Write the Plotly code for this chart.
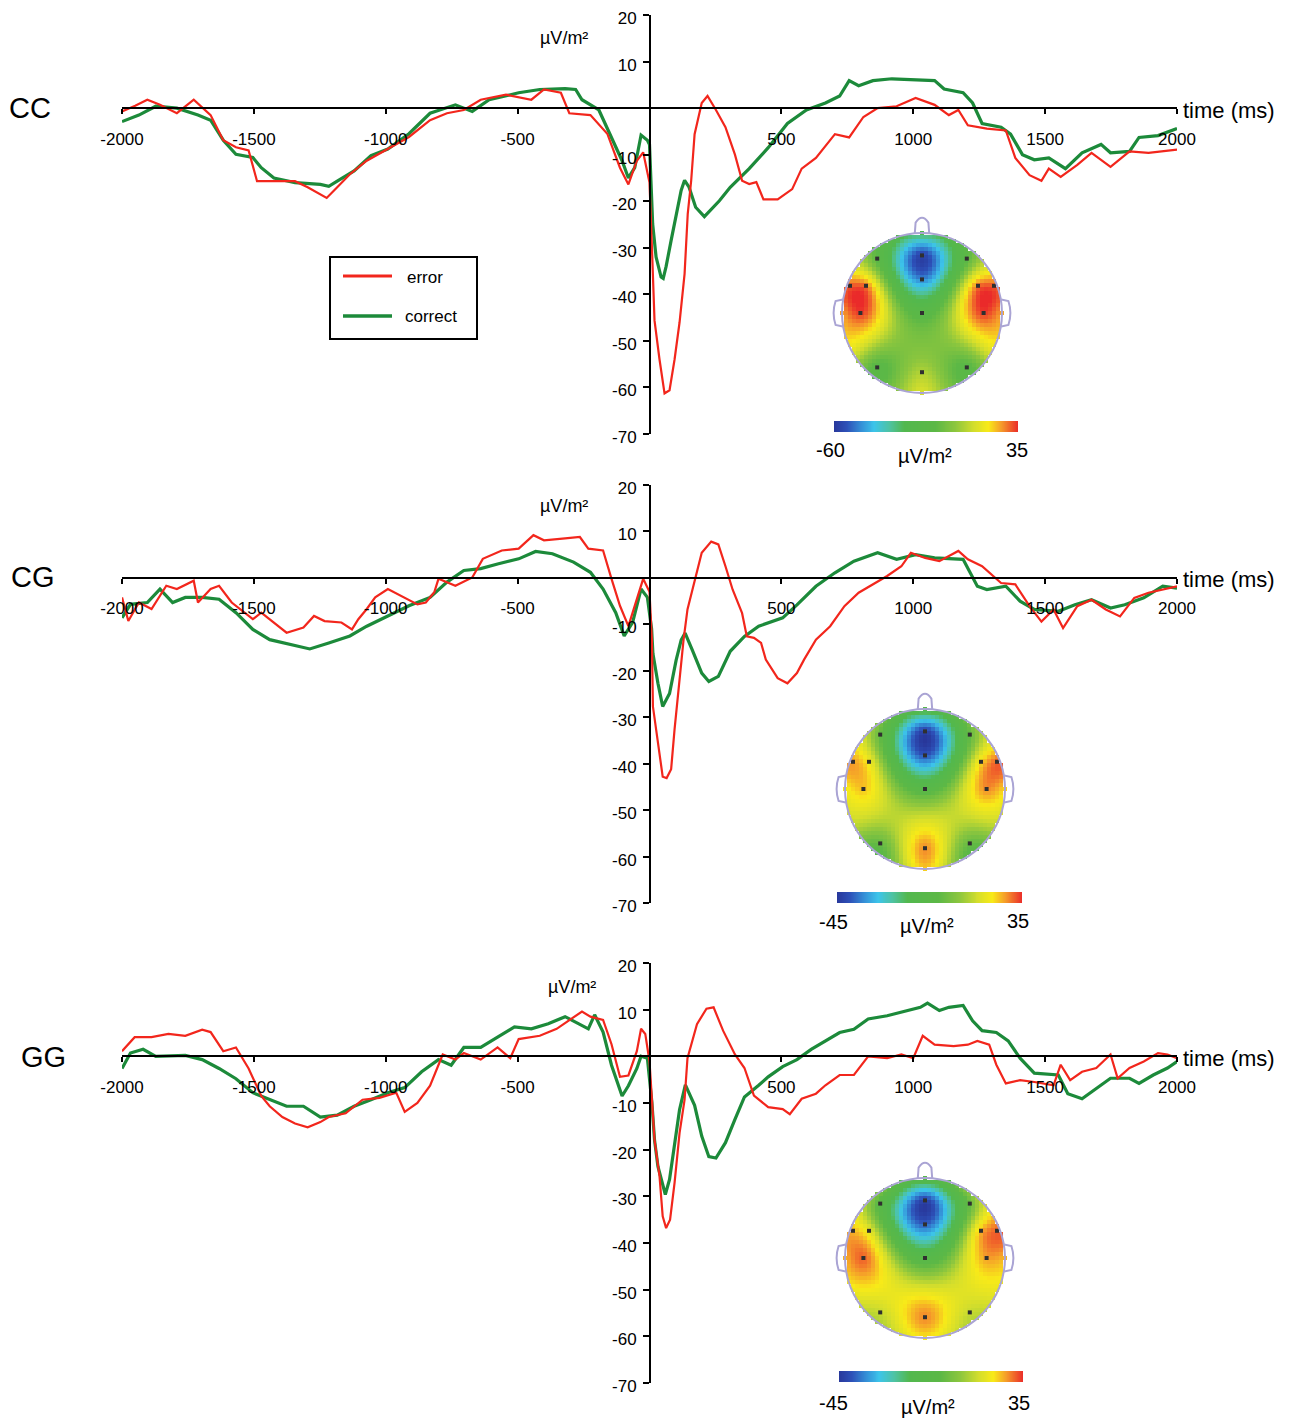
import numpy as np
import plotly.graph_objects as go

# the page places the figure 8 px from the top-left corner; coordinates below are page pixels
OFF = 8
W, H = 1304 - OFF, 1424 - OFF
def PX(p): return (p - OFF) / W
def PY(p): return 1 - (p - OFF) / H

# ---------------- data: ERP curves (time in ms, amplitude in µV/m²) ----------------
cc_err_t = [-2000,-1950,-1904,-1856,-1792,-1728,-1664,-1616,-1568,-1520,-1488,-1424,-1344,-1296,-1224,-1184,-1136,-1072,-992,-912,-832,-768,-704,-640,-544,-448,-400,-336,-304,-224,-160,-112,-80,-48,-24,0,8,19,38,57,76,95,114,133,145,158,171,198,220,252,288,324,351,378,405,432,486,541,577,631,703,757,811,865,937,1009,1081,1135,1171,1207,1279,1351,1387,1441,1486,1514,1559,1622,1676,1748,1820,1892,2000]
cc_err_v = [-0.7,0.5,1.8,0.7,-1.1,1.8,-1.5,-6.9,-8.4,-9.1,-15.7,-15.7,-15.7,-17,-19.3,-17,-14.2,-11.3,-8.8,-6.2,-2.6,-1.1,-0.4,1.8,2.9,1.8,4,3.3,-1.1,-1.5,-5.5,-12.8,-16.4,-11.3,-9.5,-16,-28,-45.6,-54,-61.3,-60.6,-54,-46,-35.6,-22.7,-15.6,-5.6,1.1,2.6,-0.4,-4.1,-10,-15.6,-16.3,-15.9,-19.6,-19.6,-17.4,-13,-10.7,-5.6,-6.3,-1.9,0,0.4,2.2,0.7,-1.5,-0.4,-3.7,-4.4,-4.8,-10.7,-14.4,-15.6,-13,-14.8,-12.2,-9.6,-12.6,-9.3,-9.6,-8.9]
cc_cor_t = [-2000,-1936,-1872,-1792,-1712,-1664,-1616,-1568,-1504,-1472,-1424,-1344,-1248,-1216,-1184,-1120,-1056,-992,-912,-832,-736,-672,-608,-496,-416,-320,-280,-256,-192,-152,-104,-80,-56,-32,-8,0,12,25,44,52,63,82,101,120,133,150,175,208,265,306,378,450,523,595,667,721,757,793,847,919,1081,1117,1189,1225,1261,1333,1369,1414,1459,1514,1577,1640,1712,1748,1820,1856,1928,2000]
cc_cor_v = [-2.9,-1.5,0.4,0,-1.5,-2.6,-6.9,-9.9,-10.6,-12.8,-15,-16,-16.4,-16.8,-15.7,-13.5,-10.2,-8.8,-5.5,-1.1,0.7,-0.7,1.8,3.3,4,4.2,4,1.8,-0.4,-5.5,-11.3,-15,-12.8,-5.8,-6.9,-7.8,-24.9,-32,-36.3,-36.6,-34,-28.4,-22.7,-17.7,-15.5,-17,-21.3,-23.3,-19.9,-17,-13,-8.5,-3.3,-0.4,1.1,2.6,5.9,4.8,5.9,6.3,5.9,4.1,3.3,1.1,-3.3,-4.1,-5.6,-10,-11.1,-10.7,-13,-9.6,-7.8,-9.6,-9.3,-6.3,-5.9,-4.4]

cg_err_t = [-2000,-1976,-1936,-1888,-1832,-1792,-1728,-1712,-1664,-1632,-1584,-1504,-1472,-1424,-1376,-1312,-1272,-1232,-1168,-1128,-1104,-1072,-1040,-992,-928,-880,-848,-816,-800,-736,-672,-632,-560,-496,-440,-400,-320,-264,-232,-176,-144,-112,-80,-56,-24,0,9,13,32,50,65,82,95,114,129,144,171,198,234,261,288,315,351,369,396,423,441,486,523,559,586,631,685,739,793,847,901,955,991,1045,1099,1171,1207,1261,1297,1333,1387,1441,1486,1532,1568,1622,1676,1730,1784,1838,1892,1946,2000]
cg_err_v = [-4.2,-9.3,-5.3,-6.7,-1.7,-2.4,-0.6,-5.3,-2.4,-1.7,-5.3,-8.9,-7.5,-9.6,-11.8,-10.7,-8.2,-9.3,-9.6,-11.1,-8.9,-6.7,-4.2,-2.4,-4.2,-5.7,-5.3,-3.1,-0.2,-1.7,0.1,4.1,5.9,6.3,9.2,8.1,8.5,8.8,6.3,5.9,-0.2,-6,-10.4,-6,-0.2,-3,-13.3,-27.7,-34.9,-42.8,-43.1,-41.2,-32.6,-21.2,-13.4,-6.8,-0.4,5.4,7.8,7.2,2.5,-2.5,-7.6,-12.6,-12.9,-14,-17.6,-21.6,-22.7,-20.5,-17.6,-13.3,-10.4,-6.1,-3.2,-1.4,0.4,2.5,5.4,4.3,3.6,5.8,4,2.5,0.7,-1.1,-1.4,-6.1,-9.4,-6.8,-10.8,-6.1,-4.7,-6.8,-8.3,-4.3,-3.2,-2.5,-1.8]
cg_cor_t = [-2000,-1968,-1904,-1856,-1808,-1760,-1696,-1632,-1568,-1504,-1440,-1360,-1288,-1216,-1136,-1072,-992,-912,-832,-768,-704,-640,-576,-496,-432,-368,-288,-224,-176,-128,-96,-64,-32,-8,8,13,32,50,76,101,120,135,162,198,225,261,306,360,414,468,505,559,631,703,775,865,937,1009,1081,1189,1243,1279,1351,1405,1459,1550,1613,1676,1748,1802,1874,1946,2000]
cg_cor_v = [-8.6,-5.7,-5.3,-2.4,-5.3,-4.2,-4.2,-4.6,-7.5,-11.1,-13.3,-14.3,-15.3,-14,-12.5,-10.4,-8.2,-6,-4.2,-0.9,1.6,2,3,4.1,5.7,5.2,3.4,1.2,-2.4,-7.5,-12.5,-9.6,-2.4,-4.2,-11,-16.3,-22.7,-27.7,-24.9,-17.7,-13.4,-11.9,-15.5,-20.5,-22.3,-21.2,-15.8,-12.6,-10.4,-9.4,-8.6,-5.8,-1.8,1.1,3.6,5.4,4,5,4.3,4,-1.8,-2.5,-1.8,-5,-6.8,-7.2,-5.8,-4.7,-6.5,-5.8,-4.3,-1.8,-2.2]

gg_err_t = [-2000,-1952,-1888,-1824,-1760,-1696,-1664,-1616,-1568,-1520,-1472,-1440,-1392,-1344,-1296,-1248,-1216,-1152,-1088,-1024,-960,-928,-880,-832,-784,-736,-704,-640,-576,-528,-496,-416,-352,-256,-224,-176,-144,-112,-80,-48,-32,-16,0,19,38,50,63,78,95,114,133,144,180,216,243,279,324,360,396,450,505,532,577,631,667,721,775,829,901,955,1000,1036,1081,1153,1207,1243,1288,1315,1351,1405,1459,1532,1559,1595,1640,1694,1748,1775,1820,1874,1928,1964,2000]
gg_err_v = [1.1,4.1,4.1,4.8,4.4,5.7,5.2,1.1,1.9,-2.6,-8.5,-10.7,-13,-14.4,-15.2,-14.1,-13,-12.2,-9.3,-8.9,-7.8,-11.9,-10,-6.3,0.4,-0.7,0.7,-0.7,1.9,-0.4,3.7,4.4,5.9,9.6,8.5,7.8,2.6,-4.4,-4.1,1.1,5.9,4.8,-1.1,-17.9,-25.7,-34.3,-36.8,-35,-27.1,-16.4,-9.3,-0.4,6.9,10.2,10.5,5.5,0.4,-2.5,-8.4,-10.9,-11.3,-12.4,-9.1,-8,-6.2,-4,-4,0,-0.4,0.4,-0.4,4.4,2.5,2.2,2.5,3.3,2.5,-1.8,-5.8,-5.1,-5.5,-6.2,-1.8,-5.1,-3.3,-2.5,0.4,-4.7,-2.5,-1.1,0.7,0.4,-0.4]
gg_cor_t = [-2000,-1968,-1920,-1872,-1760,-1696,-1632,-1568,-1504,-1440,-1376,-1312,-1248,-1184,-1120,-1056,-992,-928,-864,-800,-752,-704,-640,-576,-512,-448,-384,-320,-272,-232,-208,-176,-144,-104,-80,-48,-32,-8,9,19,32,50,60,76,95,114,136,171,198,225,252,288,324,360,414,450,505,559,613,667,721,775,829,901,955,1027,1054,1099,1135,1189,1225,1261,1315,1360,1405,1459,1550,1586,1640,1694,1748,1820,1856,1910,1964,2000]
gg_cor_v = [-2.6,0.7,1.5,0,0.2,-0.7,-2.6,-4.8,-7.8,-9.3,-10.7,-10.7,-13,-12.6,-10.7,-9.3,-7.8,-6.7,-3.3,-0.7,-1.9,1.9,1.9,4.1,6.3,5.9,7,8.5,7,5.9,8.9,5.2,-1.9,-8.5,-6.3,-2.6,0,-0.4,-9.8,-17.9,-23.6,-27.9,-29.6,-26.4,-18.6,-11.4,-6.1,-10.5,-17.1,-21.5,-21.8,-18.5,-13.5,-8.7,-6.2,-4.4,-2.2,-0.7,1.5,3.3,5.1,5.8,8,8.7,9.5,10.5,11.4,9.8,10.5,10.9,7.6,5.5,5.1,3.3,-0.4,-3.6,-4,-8,-9.1,-6.9,-4.7,-4.7,-5.8,-4,-2.5,-1.1]

panel_names = ["CC", "CG", "GG"]
x_ticks = [-2000, -1500, -1000, -500, 500, 1000, 1500, 2000]
y_ticks = [20, 10, -10, -20, -30, -40, -50, -60, -70]
UNIT = "µV/m²"

# ---------------- data: scalp maps (electrode values, µV/m²) ----------------
elec_x = [0, 0, 0, 0, -0.56, 0.56, -0.9, -0.7, 0.7, 0.9, -0.77, 0.77, -0.56, 0.56]
elec_y = [0.72, 0.42, 0, -0.74, 0.68, 0.68, 0.34, 0.34, 0.34, 0.34, 0, 0, -0.68, -0.68]
rim_deg = [90, 60, 30, 0, -30, -60, -90, -120, -150, 180, 150, 120]
cc_elec = [-60, -48, -12, 8, -10, -10, 32, 32, 32, 32, 35, 35, -12, -12]
cc_rim = [-22, -10, 18, 24, 15, -8, 14, -8, 15, 24, 18, -10]
cg_elec = [-45, -40, -5, 30, 0, 0, 28, 22, 24, 33, 26, 30, 0, 0]
cg_rim = [-8, 3, 22, 22, 12, -2, 25, -2, 12, 20, 22, 3]
gg_elec = [-45, -38, -8, 30, -5, 0, 26, 20, 28, 32, 33, 28, 14, 14]
gg_rim = [-5, 8, 25, 25, 18, 12, 22, 12, 18, 25, 20, 5]
map_ranges = [(-60, 35), (-45, 35), (-45, 35)]

RED = '#f2261c'
GREEN = '#1c8a3a'
FONT = "Liberation Sans Narrow, Liberation Sans, Arial, sans-serif"
SANS = "Liberation Sans, Arial, sans-serif"

colorscale = [[0.0, '#28379a'], [0.07, '#2d50b8'], [0.15, '#3592d8'], [0.22, '#3cc4ea'],
              [0.3, '#4ec3a4'], [0.38, '#52b84e'], [0.55, '#5cb846'], [0.66, '#8cc63e'],
              [0.76, '#d4de2c'], [0.84, '#f8ea18'], [0.91, '#f59b2a'], [1.0, '#ea2a2a']]

def tps_kernel(r):
    return np.where(r > 0, r ** 2 * np.log(np.maximum(r, 1e-12)), 0.0)

def scalp(ev, rv, zmin, zmax, n=41):
    rx = [np.cos(np.radians(a)) for a in rim_deg]
    ry = [np.sin(np.radians(a)) for a in rim_deg]
    px = np.array(elec_x + rx, float); py = np.array(elec_y + ry, float); pv = np.array(ev + rv, float)
    N = len(px)
    r = np.hypot(px[:, None] - px[None, :], py[:, None] - py[None, :])
    K = tps_kernel(r) + np.eye(N) * 0.02
    P = np.column_stack([np.ones(N), px, py])
    A = np.zeros((N + 3, N + 3)); A[:N, :N] = K; A[:N, N:] = P; A[N:, :N] = P.T
    b = np.concatenate([pv, np.zeros(3)])
    sol = np.linalg.solve(A, b)
    w, a = sol[:N], sol[N:]
    g = np.linspace(-1, 1, n)
    X, Y = np.meshgrid(g, g)
    R = np.hypot(X[..., None] - px, Y[..., None] - py)
    Z = tps_kernel(R) @ w + a[0] + a[1] * X + a[2] * Y
    Z = np.clip(Z, zmin, zmax)
    inside = X ** 2 + Y ** 2 <= 1.0
    z = [[float(Z[i, j]) if inside[i, j] else None for j in range(n)] for i in range(n)]
    return list(g), z

# ---------------- geometry (page pixels) ----------------
panel_px = [(15, 434), (485, 903), (963, 1383)]    # rows of y=20 and y=-70
zero_px = [108.1, 577.9, 1056.3]
x_dom = [PX(122), PX(1177)]
yaxis_pos = PX(650)
head_c = [(922, 313), (925, 789), (925, 1258)]
cbar_box = [(834, 1018, 421, 432), (837, 1022, 892, 903), (839, 1023, 1371, 1382)]
cbar_lbl = [((830, 450), (925, 456), (1017, 450)),
            ((833, 922), (927, 926), (1018, 921)),
            ((833, 1403), (928, 1407), (1019, 1403))]
label_pos = [(30, 108), (33, 577), (43, 1057)]
unit_pos = [(564, 38), (564, 506), (572, 987)]

hidden_axis = dict(showticklabels=False, showgrid=False, zeroline=False, showline=False,
                   ticks='', fixedrange=True)

fig = go.Figure()
series = [(cc_err_t, cc_err_v, cc_cor_t, cc_cor_v, cc_elec, cc_rim),
          (cg_err_t, cg_err_v, cg_cor_t, cg_cor_v, cg_elec, cg_rim),
          (gg_err_t, gg_err_v, gg_cor_t, gg_cor_v, gg_elec, gg_rim)]

layout = dict(width=W, height=H, margin=dict(l=0, r=0, t=0, b=0, pad=0, autoexpand=False),
              paper_bgcolor='white', plot_bgcolor='rgba(0,0,0,0)', showlegend=False,
              font=dict(family=FONT, color='black'))
annotations = []
shapes = []

for i, (et, ev, ct, cv, elv, rmv) in enumerate(series):
    k = i + 1
    xa, ya = ('x' if k == 1 else f'x{k}'), ('y' if k == 1 else f'y{k}')
    fig.add_trace(go.Scatter(x=ct, y=cv, mode='lines', name='correct', line=dict(color=GREEN, width=3.2),
                             xaxis=xa, yaxis=ya, hoverinfo='skip'))
    fig.add_trace(go.Scatter(x=et, y=ev, mode='lines', name='error', line=dict(color=RED, width=2.2),
                             xaxis=xa, yaxis=ya, hoverinfo='skip'))
    top, bot = panel_px[i]
    layout[f'xaxis{"" if k == 1 else k}'] = dict(
        domain=x_dom, range=[-2000, 2000], anchor='free', position=PY(zero_px[i]),
        showline=True, linecolor='black', linewidth=2, ticks='outside', ticklen=5, tickwidth=1.5,
        tickcolor='black', tickvals=x_ticks, ticktext=[str(v) for v in x_ticks],
        showgrid=False, zeroline=False, tickfont=dict(size=17, family=FONT), ticklabelstandoff=10,
        ticklabeloverflow='allow', fixedrange=True)
    layout[f'yaxis{"" if k == 1 else k}'] = dict(
        domain=[PY(bot), PY(top)], range=[-70, 20], anchor='free', position=yaxis_pos,
        showline=True, linecolor='black', linewidth=2, ticks='outside', ticklen=6, tickwidth=1.5,
        tickcolor='black', tickvals=y_ticks, ticktext=[str(v) for v in y_ticks],
        showgrid=False, zeroline=False, tickfont=dict(size=17, family=FONT), ticklabelstandoff=3,
        ticklabelshift=3, ticklabeloverflow='allow', fixedrange=True)

    # scalp map
    hk = 2 * i + 4
    hx, hy = f'x{hk}', f'y{hk}'
    cx, cy = head_c[i]
    zmin, zmax = map_ranges[i]
    g, z = scalp(elv, rmv, zmin, zmax)
    fig.add_trace(go.Heatmap(x=g, y=g, z=z, colorscale=colorscale, zmin=zmin, zmax=zmax,
                             xaxis=hx, yaxis=hy, zsmooth=False, hoverinfo='skip', showscale=False))
    fig.add_trace(go.Scatter(x=elec_x, y=elec_y, mode='markers', xaxis=hx, yaxis=hy,
                             marker=dict(symbol='square', size=4, color='#303030'), hoverinfo='skip'))
    layout[f'xaxis{hk}'] = dict(domain=[PX(cx - 100), PX(cx + 100)], range=[-1.25, 1.25],
                                anchor=hy, **hidden_axis)
    layout[f'yaxis{hk}'] = dict(domain=[PY(cy + 100), PY(cy - 100)], range=[-1.25, 1.25],
                                anchor=hx, **hidden_axis)
    outline = dict(color='#aaa4d4', width=2)
    shapes.append(dict(type='circle', xref=hx, yref=hy, x0=-1, x1=1, y0=-1, y1=1, line=outline))
    shapes.append(dict(type='path', xref=hx, yref=hy, line=outline,
                       path='M -0.09 0.995 L -0.08 1.13 Q 0 1.25 0.08 1.13 L 0.09 0.995'))
    shapes.append(dict(type='path', xref=hx, yref=hy, line=outline,
                       path='M -0.99 0.17 L -1.08 0.15 Q -1.13 0 -1.08 -0.15 L -0.99 -0.17'))
    shapes.append(dict(type='path', xref=hx, yref=hy, line=outline,
                       path='M 0.99 0.17 L 1.08 0.15 Q 1.13 0 1.08 -0.15 L 0.99 -0.17'))

    # colour-scale strip
    sk = hk + 1
    sx, sy = f'x{sk}', f'y{sk}'
    x0, x1, y0, y1 = cbar_box[i]
    strip = list(np.linspace(zmin, zmax, 190))
    fig.add_trace(go.Heatmap(x=strip, y=[0], z=[strip], colorscale=colorscale, zmin=zmin, zmax=zmax,
                             xaxis=sx, yaxis=sy, showscale=False, hoverinfo='skip'))
    layout[f'xaxis{sk}'] = dict(domain=[PX(x0), PX(x1)], range=[zmin, zmax], anchor=sy, **hidden_axis)
    layout[f'yaxis{sk}'] = dict(domain=[PY(y1), PY(y0)], range=[-0.5, 0.5], anchor=sx, **hidden_axis)

    # texts
    lx, ly = label_pos[i]
    annotations.append(dict(x=PX(lx), y=PY(ly), xref='paper', yref='paper', text=panel_names[i],
                            showarrow=False, font=dict(size=29, family=FONT), xanchor='center', yanchor='middle'))
    annotations.append(dict(x=PX(1181), y=PY(zero_px[i] + 2), xref='paper', yref='paper', text='time (ms)',
                            showarrow=False, font=dict(size=22, family=SANS),
                            xanchor='left', yanchor='middle'))
    ux, uy = unit_pos[i]
    annotations.append(dict(x=PX(ux), y=PY(uy), xref='paper', yref='paper', text=UNIT,
                            showarrow=False, font=dict(size=18, family=SANS),
                            xanchor='center', yanchor='middle'))
    (l1, l2, l3) = cbar_lbl[i]
    annotations.append(dict(x=PX(l1[0]), y=PY(l1[1]), xref='paper', yref='paper', text=str(zmin),
                            showarrow=False, font=dict(size=20, family=SANS),
                            xanchor='center', yanchor='middle'))
    annotations.append(dict(x=PX(l2[0]), y=PY(l2[1]), xref='paper', yref='paper', text=UNIT,
                            showarrow=False, font=dict(size=20, family=SANS),
                            xanchor='center', yanchor='middle'))
    annotations.append(dict(x=PX(l3[0]), y=PY(l3[1]), xref='paper', yref='paper', text=str(zmax),
                            showarrow=False, font=dict(size=20, family=SANS),
                            xanchor='center', yanchor='middle'))

# legend box (panel CC)
shapes.append(dict(type='rect', xref='paper', yref='paper', x0=PX(330), x1=PX(477), y0=PY(339), y1=PY(257),
                   line=dict(color='black', width=2), fillcolor='white', layer='below'))
shapes.append(dict(type='line', xref='paper', yref='paper', x0=PX(343), x1=PX(392), y0=PY(276), y1=PY(276),
                   line=dict(color=RED, width=3)))
shapes.append(dict(type='line', xref='paper', yref='paper', x0=PX(343), x1=PX(392), y0=PY(316), y1=PY(316),
                   line=dict(color=GREEN, width=3.5)))
annotations.append(dict(x=PX(405), y=PY(277), xref='paper', yref='paper', text='error', showarrow=False,
                        font=dict(size=17, family=FONT), xanchor='left', yanchor='middle'))
annotations.append(dict(x=PX(403), y=PY(317), xref='paper', yref='paper', text='correct', showarrow=False,
                        font=dict(size=17, family=FONT), xanchor='left', yanchor='middle'))

layout['annotations'] = annotations
layout['shapes'] = shapes
fig.update_layout(**layout)
fig.write_html("out.html")
